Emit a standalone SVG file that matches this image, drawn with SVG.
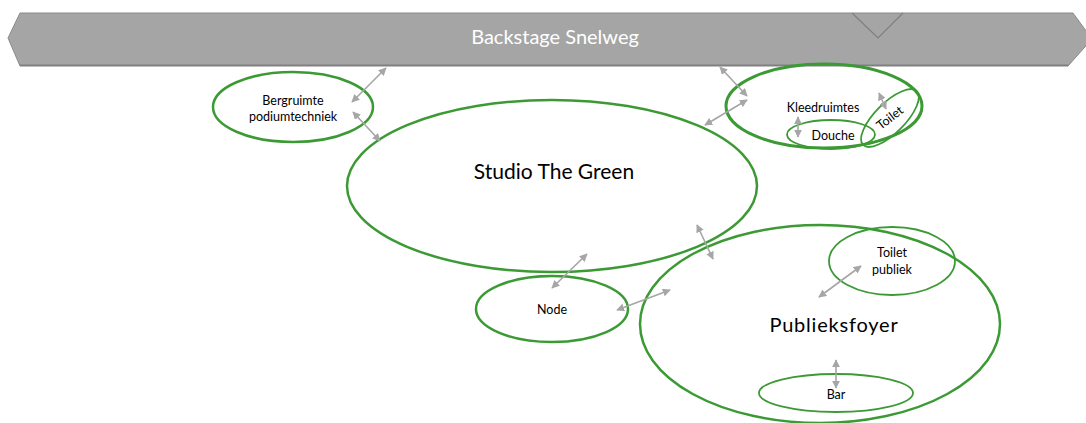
<svg xmlns="http://www.w3.org/2000/svg" width="1086" height="423" viewBox="0 0 1086 423">
<style>
.n{fill:none;stroke:#3c9a35;stroke-width:2.5}
.s{fill:none;stroke:#3c9a35;stroke-width:1.8}
.t{font-family:Lato,"Open Sans",sans-serif;fill:#000;text-anchor:middle}
.sm{font-size:12.5px}
.c{stroke:#a6a6a6;stroke-width:1.6;fill:none;marker-start:url(#ah);marker-end:url(#ah)}
</style>
<defs>
<marker id="ah" viewBox="0 0 10 10" refX="9" refY="5" markerWidth="5" markerHeight="5" orient="auto-start-reverse" markerUnits="strokeWidth">
<path d="M0,0 L10,5 L0,10 z" fill="#a6a6a6"/>
</marker>
</defs>
<g id="snelweg">
<polygon points="8,38 20,13 1073,13 1092,39 1068,66 20,66" fill="#a5a5a5"/>
<line x1="20" y1="65.5" x2="1068" y2="65.5" stroke="#808080" stroke-width="2"/>
<polyline points="8,38 20,13 1073,13 1092,39 1068,66" fill="none" stroke="#8a8a8a" stroke-width="1"/>
<polyline points="8,38 20,66" fill="none" stroke="#8a8a8a" stroke-width="1"/>
<polyline points="852,13 878,38 903,13" fill="none" stroke="#7f7f7f" stroke-width="1.2"/>
<text x="555" y="44" class="t" style="fill:#fff;font-size:20px">Backstage Snelweg</text>
</g>
<g id="bergruimte">
<ellipse cx="293" cy="107" rx="80" ry="35" class="n"/>
<text x="293" y="105" class="t sm">Bergruimte</text>
<text x="293" y="121" class="t sm">podiumtechniek</text>
</g>
<g id="studio">
<ellipse cx="552" cy="186" rx="205" ry="86" class="n"/>
<text x="554" y="179" class="t" font-size="21">Studio The Green</text>
</g>
<g id="kleedruimtes">
<ellipse cx="824" cy="106" rx="98" ry="42" class="n" style="stroke-width:3"/>
<text x="823" y="112" class="t sm">Kleedruimtes</text>
</g>
<g id="douche">
<ellipse cx="831" cy="134.5" rx="44" ry="14.5" class="s"/>
<text x="833" y="140" class="t sm">Douche</text>
</g>
<g id="toilet">
<ellipse cx="890" cy="118" rx="38" ry="15" transform="rotate(-45 890 118)" class="s"/>
<text x="890" y="122" class="t sm" transform="rotate(-38 890 118)">Toilet</text>
</g>
<g id="node">
<ellipse cx="552" cy="309" rx="76" ry="33" class="n"/>
<text x="552" y="314" class="t sm">Node</text>
</g>
<g id="publieksfoyer">
<ellipse cx="820" cy="324" rx="180" ry="99" class="n"/>
<text x="834" y="332" class="t" font-size="20" letter-spacing="0.8">Publieksfoyer</text>
</g>
<g id="toiletpubliek">
<ellipse cx="892" cy="261" rx="63" ry="34" class="s"/>
<text x="892" y="257" class="t sm">Toilet</text>
<text x="892" y="274" class="t sm">publiek</text>
</g>
<g id="bar">
<ellipse cx="836" cy="393" rx="77" ry="19" class="s"/>
<text x="836" y="399" class="t sm">Bar</text>
</g>
<g id="connectors">
<line x1="352" y1="102" x2="386" y2="68" class="c"/>
<line x1="353" y1="112" x2="380" y2="141" class="c"/>
<line x1="720" y1="67" x2="747" y2="96" class="c"/>
<line x1="705" y1="125" x2="747" y2="100" class="c"/>
<line x1="798" y1="117" x2="798" y2="137" class="c"/>
<line x1="879" y1="93" x2="886" y2="109" class="c"/>
<line x1="587" y1="254" x2="552" y2="288" class="c"/>
<line x1="617" y1="310" x2="670" y2="290" class="c"/>
<line x1="697" y1="225" x2="713" y2="259" class="c"/>
<line x1="819" y1="297" x2="861" y2="266" class="c"/>
<line x1="836" y1="360" x2="836" y2="388" class="c"/>
</g>
</svg>
